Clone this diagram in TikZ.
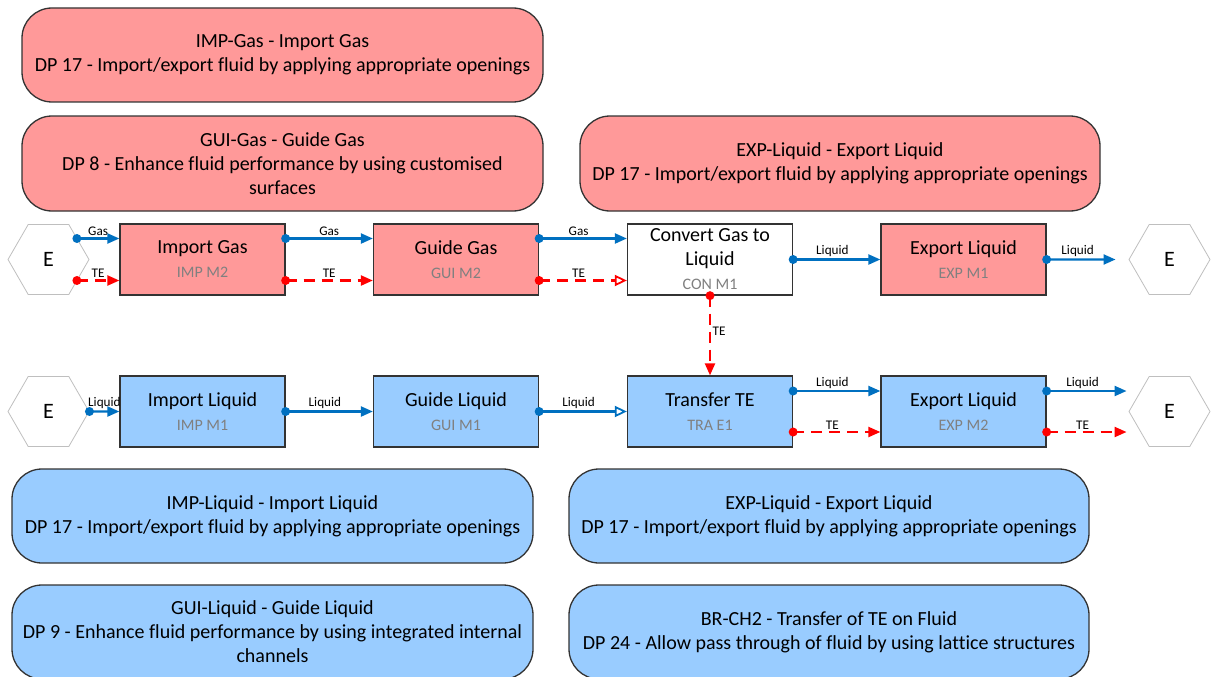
\documentclass[tikz,border=0pt]{standalone}
\usepackage{fontspec}
\setmainfont{Carlito}[Ligatures=NoCommon]
\usetikzlibrary{shapes.geometric,arrows.meta,calc}
\definecolor{pinkfill}{HTML}{FF9999}
\definecolor{bluefill}{HTML}{99CCFF}
\definecolor{flowblue}{HTML}{0070C0}
\definecolor{flowred}{HTML}{FF0000}
\definecolor{subgray}{HTML}{808080}
\definecolor{hexgray}{HTML}{BFBFBF}
\definecolor{edgegray}{HTML}{333333}
\newcommand\fnsub[1]{{\fontsize{16}{24}\selectfont\color{subgray}#1}}
\tikzset{
 fnbox/.style={draw=edgegray, line width=1.3pt, minimum width=165pt, minimum height=71pt, inner sep=0pt, align=center, font=\fontsize{20}{24}\selectfont},
 gasbox/.style={fnbox, fill=pinkfill},
 liqbox/.style={fnbox, fill=bluefill},
 whtbox/.style={fnbox, fill=white},
 descbox/.style={draw=edgegray, line width=1.3pt, rounded corners=30pt, minimum width=521pt, minimum height=94pt, inner sep=0pt, align=center, font=\fontsize{20}{24}\selectfont},
 gasdesc/.style={descbox, fill=pinkfill},
 liqdesc/.style={descbox, fill=bluefill},
 hexnode/.style={regular polygon, regular polygon sides=6, minimum size=81pt, draw=hexgray, line width=0.8pt, fill=white, inner sep=0pt, font=\fontsize{22}{24}\selectfont},
 bflow/.style={draw=flowblue, line width=2.2pt, -{Triangle[length=12pt,width=10pt]}},
 bflowopen/.style={draw=flowblue, line width=2.2pt, -{Triangle[open,length=12pt,width=11pt,fill=white,line width=1.8pt]}},
 rflow/.style={draw=flowred, line width=2.2pt, dash pattern=on 11pt off 7pt, -{Triangle[length=12pt,width=10pt]}},
 rflowopen/.style={draw=flowred, line width=2.2pt, dash pattern=on 11pt off 7pt, -{Triangle[open,length=12pt,width=11pt,fill=white,line width=1.8pt]}},
 flab/.style={font=\fontsize{13.2}{15}\selectfont, inner sep=1.5pt, text=black},
 bdot/.style={fill=flowblue},
 rdot/.style={fill=flowred}
}
\begin{document}
\begin{tikzpicture}[x=1pt,y=-1pt]
\useasboundingbox (0,0) rectangle (1211,677);

% description boxes
\node[gasdesc] (dImpG) at (282.5,55) {IMP-Gas - Import Gas\\DP 17 - Import/export fluid by applying appropriate openings};
\node[gasdesc, minimum height=95pt] (dGuiG) at (282.5,163.5) {GUI-Gas - Guide Gas\\DP 8 - Enhance fluid performance by using customised\\surfaces};
\node[gasdesc, minimum width=520pt, minimum height=95pt] (dExpG) at (840,163.5) {EXP-Liquid - Export Liquid\\DP 17 - Import/export fluid by applying appropriate openings};
\node[liqdesc] (dImpL) at (272.5,516) {IMP-Liquid - Import Liquid\\DP 17 - Import/export fluid by applying appropriate openings};
\node[liqdesc, minimum width=520pt] (dExpL) at (829,516) {EXP-Liquid - Export Liquid\\DP 17 - Import/export fluid by applying appropriate openings};
\node[liqdesc] (dGuiL) at (272.5,632) {GUI-Liquid - Guide Liquid\\DP 9 - Enhance fluid performance by using integrated internal\\channels};
\node[liqdesc, minimum width=520pt] (dBr) at (829,632) {BR-CH2 - Transfer of TE on Fluid\\DP 24 - Allow pass through of fluid by using lattice structures};

% top row
\node[hexnode] (eL1) at (48.5,259.5) {E};
\node[gasbox] (impG) at (202.5,259.5) {Import Gas\\\fnsub{IMP M2}};
\node[gasbox] (guiG) at (456,259.5) {Guide Gas\\\fnsub{GUI M2}};
\node[whtbox] (conG) at (710,259.5) {Convert Gas to\\Liquid\\\fnsub{CON M1}};
\node[gasbox] (expG) at (963.5,259.5) {Export Liquid\\\fnsub{EXP M1}};
\node[hexnode] (eR1) at (1169.5,259.5) {E};

% bottom row
\node[hexnode] (eL2) at (48.5,411.5) {E};
\node[liqbox] (impL) at (202.5,411.5) {Import Liquid\\\fnsub{IMP M1}};
\node[liqbox] (guiL) at (456,411.5) {Guide Liquid\\\fnsub{GUI M1}};
\node[liqbox] (traL) at (710,411.5) {Transfer TE\\\fnsub{TRA E1}};
\node[liqbox] (expL) at (963.5,411.5) {Export Liquid\\\fnsub{EXP M2}};
\node[hexnode] (eR2) at (1169.5,411.5) {E};

% coordinates for top row
\coordinate (g1s) at ($(eL1.center)+(28.4,-21)$);
\coordinate (t1s) at ($(eL1.center)+(28.4,21)$);
\coordinate (g2s) at ($(impG.east)+(0,-21)$);
\coordinate (t2s) at ($(impG.east)+(0,21)$);
\coordinate (g3s) at ($(guiG.east)+(0,-21)$);
\coordinate (t3s) at ($(guiG.east)+(0,21)$);
\coordinate (l5e) at ($(eR1.west)+(-13,0)$);

% top row connectors
\draw[bflow] (g1s) -- node[flab, above]{Gas} (g1s -| impG.west);
\draw[rflow] (t1s) -- node[flab, above]{TE} (t1s -| impG.west);
\draw[bflow] (g2s) -- node[flab, above]{Gas} (g2s -| guiG.west);
\draw[rflow] (t2s) -- node[flab, above]{TE} (t2s -| guiG.west);
\draw[bflow] (g3s) -- node[flab, above, pos=0.45]{Gas} (g3s -| conG.west);
\draw[rflowopen] (t3s) -- node[flab, above, pos=0.45]{TE} (t3s -| conG.west);
\draw[bflow] (conG.east) -- node[flab, above, pos=0.45]{Liquid} (expG.west);
\draw[bflow] (expG.east) -- node[flab, above, pos=0.45]{Liquid} (l5e);
\draw[rflow] (conG.south) -- node[flab, right, pos=0.45]{TE} (traL.north);

% coordinates for bottom row
\coordinate (l4s) at ($(traL.east)+(0,-20.5)$);
\coordinate (t4s) at ($(traL.east)+(0,20.5)$);
\coordinate (l5s) at ($(expL.east)+(0,-20.5)$);
\coordinate (t5s) at ($(expL.east)+(0,20.5)$);
\coordinate (l6e) at ($(l5s -| eR2.west)+(-2,0)$);
\coordinate (t6e) at ($(t5s -| eR2.west)+(-2,0)$);

% bottom row connectors
\draw[bflow] (eL2.east) -- node[flab, above]{Liquid} (impL.west);
\draw[bflow] (impL.east) -- node[flab, above, pos=0.45]{Liquid} (guiL.west);
\draw[bflowopen] (guiL.east) -- node[flab, above, pos=0.45]{Liquid} (traL.west);
\draw[bflow] (l4s) -- node[flab, above, pos=0.45]{Liquid} (l4s -| expL.west);
\draw[rflow] (t4s) -- node[flab, above, pos=0.45]{TE} (t4s -| expL.west);
\draw[bflow] (l5s) -- node[flab, above, pos=0.45]{Liquid} (l6e);
\draw[rflow] (t5s) -- node[flab, above, pos=0.45]{TE} (t6e);

% start dots
\fill[bdot] (g1s) circle[radius=4.5pt];
\fill[rdot] (t1s) circle[radius=4.5pt];
\fill[bdot] (g2s) circle[radius=4.5pt];
\fill[rdot] (t2s) circle[radius=4.5pt];
\fill[bdot] (g3s) circle[radius=4.5pt];
\fill[rdot] (t3s) circle[radius=4.5pt];
\fill[bdot] (conG.east) circle[radius=4.5pt];
\fill[bdot] (expG.east) circle[radius=4.5pt];
\fill[rdot] (conG.south) circle[radius=4.5pt];
\fill[bdot] (eL2.east) circle[radius=4.5pt];
\fill[bdot] (impL.east) circle[radius=4.5pt];
\fill[bdot] (guiL.east) circle[radius=4.5pt];
\fill[bdot] (l4s) circle[radius=4.5pt];
\fill[rdot] (t4s) circle[radius=4.5pt];
\fill[bdot] (l5s) circle[radius=4.5pt];
\fill[rdot] (t5s) circle[radius=4.5pt];
\end{tikzpicture}
\end{document}
